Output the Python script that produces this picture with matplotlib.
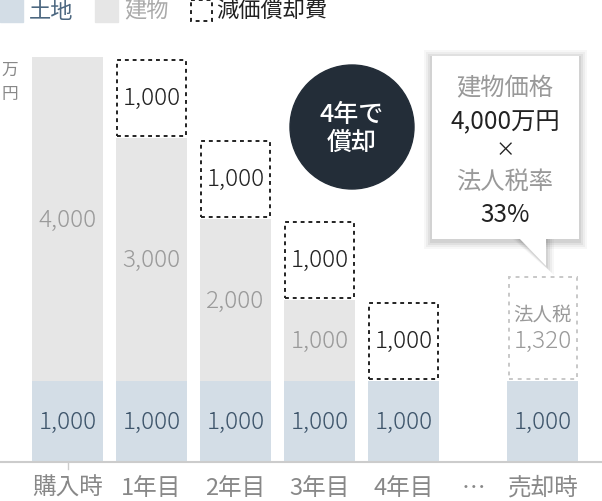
import matplotlib
matplotlib.use("Agg")
import matplotlib.pyplot as plt
from matplotlib.patches import Rectangle, Circle, Polygon

plt.rcParams['font.family'] = ['Noto Sans CJK JP', 'DejaVu Sans']

# data
categories = ['購入時', '1年目', '2年目', '3年目', '4年目', '売却時']
x_pos = [0, 1, 2, 3, 4, 5.66]
land = [1000, 1000, 1000, 1000, 1000, 1000]
building = [4000, 3000, 2000, 1000, 0, 0]
depreciation = [0, 1000, 1000, 1000, 1000, 0]
tax = [0, 0, 0, 0, 0, 1320]
gap_label = '…'
gap_pos = 4.83

land_col = '#d3dde6'
bld_col = '#e6e6e6'
land_txt = '#3e556b'
gray_txt = '#9a9a9a'
num_fs = 17.5

fig = plt.figure(figsize=(6.02, 5.02), dpi=100)
ax = fig.add_axes([0, 39 / 502, 1, 463 / 502])
ax.set_xlim(-0.804, 6.363)
ax.set_ylim(0, 5720)
ax.axis('off')

w = 0.845
ax.bar(x_pos, land, width=w, color=land_col)
ax.bar(x_pos, building, width=w, bottom=land, color=bld_col)
dep_bottom = [l + b for l, b in zip(land, building)]
for x, d, b in zip(x_pos, depreciation, dep_bottom):
    if d:
        ax.bar(x, d - 60, width=w - 0.03, bottom=b + 30, fill=False,
               edgecolor='#222222', linewidth=1.4, linestyle=(0, (2, 2)))
        ax.text(x, b + d / 2, f'{d:,}', ha='center', va='center',
                fontsize=num_fs, color='#222222', fontweight='light')
for x, t, b in zip(x_pos, tax, dep_bottom):
    if t:
        ax.bar(x, t - 60, width=w - 0.03, bottom=b + 30, fill=False,
               edgecolor='#c8c8c8', linewidth=1.4, linestyle=(0, (2, 2.5)))
        ax.text(x, b + t * 0.63, '法人税', ha='center', va='center',
                fontsize=14, color=gray_txt)
        ax.text(x, b + t * 0.38, f'{t:,}', ha='center', va='center',
                fontsize=num_fs, color=gray_txt, fontweight='light')

for x, l, b in zip(x_pos, land, building):
    ax.text(x, l / 2, f'{l:,}', ha='center', va='center', fontsize=num_fs,
            color=land_txt, fontweight='light')
    if b:
        ax.text(x, l + b / 2, f'{b:,}', ha='center', va='center', fontsize=num_fs,
                color=gray_txt, fontweight='light')

# baseline and category labels
ax.axhline(0, color='#cccccc', linewidth=1.5, clip_on=False)
ax.plot([0, 0], [0, -85], color='#cccccc', linewidth=1, clip_on=False)
for x, c in zip(x_pos, categories):
    ax.text(x, -310, c, ha='center', va='center', fontsize=17, color='#888888', clip_on=False)
ax.text(gap_pos, -310, gap_label, ha='center', va='center', fontsize=17, color='#888888', clip_on=False)

# overlay in pixel coordinates for legend / annotations
ov = fig.add_axes([0, 0, 1, 1])
ov.set_xlim(0, 602)
ov.set_ylim(502, 0)
ov.axis('off')
ov.patch.set_alpha(0)

# legend
ov.add_patch(Rectangle((0, 0), 23, 23, color=land_col))
ov.text(29, 11, '土地', va='center', fontsize=16, color='#4c6780')
ov.add_patch(Rectangle((95, 0), 23, 23, color=bld_col))
ov.text(124, 11, '建物', va='center', fontsize=16, color='#aaaaaa')
ov.add_patch(Rectangle((191, 1), 21, 21, fill=False, edgecolor='#222222',
                       linewidth=1.4, linestyle=(0, (2, 2))))
ov.text(216, 11, '減価償却費', va='center', fontsize=16, color='#222222')

# unit label
ov.text(10, 70, '万', ha='center', va='center', fontsize=12, color='#888888')
ov.text(10, 95, '円', ha='center', va='center', fontsize=12, color='#888888')

# dark circle
ov.add_patch(Circle((352, 128), 62, color='#232d38'))
ov.text(352, 115, '4年で', ha='center', va='center', fontsize=18, color='white', fontweight='medium')
ov.text(352, 143, '償却', ha='center', va='center', fontsize=18, color='white', fontweight='medium')

# callout box with soft shadow
for i, a in enumerate([0.03, 0.04, 0.05, 0.06]):
    s = 8 - 2 * i
    ov.add_patch(Rectangle((432 - s, 57 - s + 2), 147 + 2 * s, 183 + 2 * s,
                           color='black', alpha=a, linewidth=0))
    ov.add_patch(Polygon([(518 - s, 238), (546 + s, 238), (546 + s, 268 + s)],
                         color='black', alpha=a, linewidth=0))
ov.add_patch(Rectangle((432, 57), 147, 183, color='white', linewidth=0))
ov.add_patch(Polygon([(518, 238), (546, 238), (546, 267)], color='white', linewidth=0))
ov.text(505, 88, '建物価格', ha='center', va='center', fontsize=17.5, color='#999999')
ov.text(505, 122, '4,000万円', ha='center', va='center', fontsize=17.5, color='#222222')
ov.text(505, 151, '×', ha='center', va='center', fontsize=14, color='#222222')
ov.text(505, 182, '法人税率', ha='center', va='center', fontsize=17.5, color='#999999')
ov.text(505, 215, '33%', ha='center', va='center', fontsize=17.5, color='#222222')

fig.savefig('out.png', dpi=100)
